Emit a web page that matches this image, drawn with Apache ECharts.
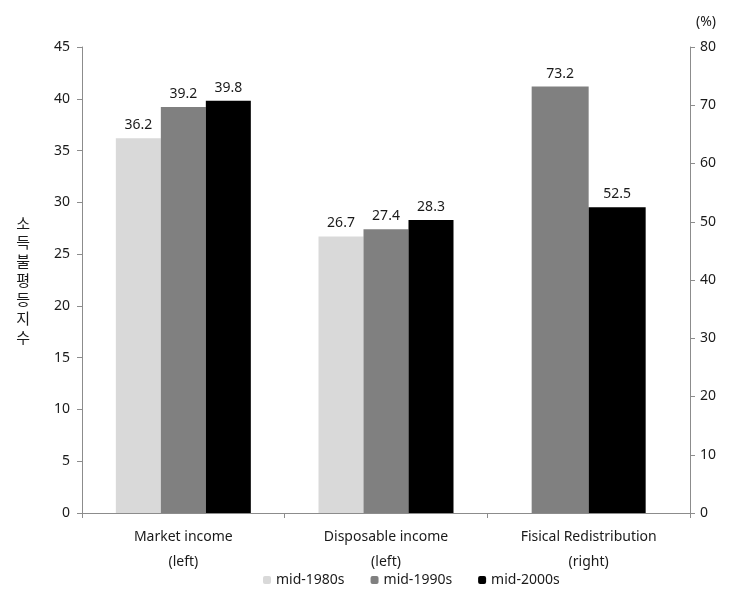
<!DOCTYPE html>
<html>
<head>
<meta charset="utf-8">
<script src="https://cdn.jsdelivr.net/npm/echarts@6/dist/echarts.min.js"></script>
<style>
  html, body { margin: 0; padding: 0; background: #ffffff; }
  #chart { width: 733px; height: 595px; }
</style>
</head>
<body>
<div id="chart"></div>
<script>
const categories = ["Market income\n(left)", "Disposable income\n(left)", "Fisical Redistribution\n(right)"];
const seriesNames = ["mid-1980s", "mid-1990s", "mid-2000s"];
const colors = ["#d9d9d9", "#808080", "#000000"];
// left axis values (income inequality index)
const mid1980sLeft = [36.2, 26.7, "-"];
const mid1990sLeft = [39.2, 27.4, "-"];
const mid2000sLeft = [39.8, 28.3, "-"];
// right axis values (%)
const mid1990sRight = ["-", "-", 73.2];
const mid2000sRight = ["-", "-", 52.5];

const font = "'Noto Sans', 'Noto Sans CJK KR', sans-serif";
const textColor = "#1a1a1a";
const chart = echarts.init(document.getElementById("chart"));

const label = {
  show: true,
  position: "top",
  distance: 6,
  color: textColor,
  fontSize: 14,
  fontFamily: font
};

const leftBar = (name, data, color) => ({
  name: name,
  type: "bar",
  xAxisIndex: 0,
  yAxisIndex: 0,
  barWidth: 45,
  barGap: "0%",
  itemStyle: { color: color },
  label: label,
  data: data
});
const rightBar = (name, data, color) => ({
  name: name,
  type: "bar",
  xAxisIndex: 1,
  yAxisIndex: 1,
  barWidth: 57,
  barGap: "0%",
  itemStyle: { color: color },
  label: label,
  data: data
});

const axisLine = { show: true, lineStyle: { color: "#8c8c8c", width: 1 } };

const option = {
  animation: false,
  textStyle: { fontFamily: font },
  grid: { left: 82, right: 43, top: 47, bottom: 82 },
  legend: {
    data: seriesNames,
    left: 258,
    bottom: 3,
    itemWidth: 8,
    itemHeight: 8,
    itemGap: 26,
    textStyle: { color: textColor, fontSize: 14, fontFamily: font }
  },
  xAxis: [
    {
      type: "category",
      data: categories,
      axisLine: axisLine,
      axisTick: { show: true, alignWithLabel: false, length: 5, lineStyle: { color: "#8c8c8c" } },
      axisLabel: { color: textColor, fontSize: 14, lineHeight: 25, margin: 12, interval: 0 }
    },
    {
      type: "category",
      data: categories,
      show: false
    }
  ],
  yAxis: [
    {
      type: "value",
      min: 0,
      max: 45,
      interval: 5,
      name: "소\n득\n불\n평\n등\n지\n수",
      nameLocation: "middle",
      nameRotate: 0,
      nameGap: 52,
      nameTextStyle: { color: textColor, fontSize: 15, lineHeight: 19, fontFamily: "'Noto Sans CJK KR', sans-serif" },
      splitLine: { show: false },
      axisLine: axisLine,
      axisTick: { show: true, length: 5, lineStyle: { color: "#8c8c8c" } },
      axisLabel: { color: textColor, fontSize: 14, margin: 12 }
    },
    {
      type: "value",
      position: "right",
      min: 0,
      max: 80,
      interval: 10,
      name: "(%)",
      nameGap: 18,
      nameTextStyle: { color: textColor, fontSize: 14, align: "left", padding: [0, 0, 0, 6] },
      splitLine: { show: false },
      axisLine: axisLine,
      axisTick: { show: true, length: 5, lineStyle: { color: "#8c8c8c" } },
      axisLabel: { color: textColor, fontSize: 14, margin: 10 }
    }
  ],
  series: [
    leftBar(seriesNames[0], mid1980sLeft, colors[0]),
    leftBar(seriesNames[1], mid1990sLeft, colors[1]),
    leftBar(seriesNames[2], mid2000sLeft, colors[2]),
    rightBar(seriesNames[1], mid1990sRight, colors[1]),
    rightBar(seriesNames[2], mid2000sRight, colors[2])
  ]
};

chart.setOption(option);
</script>
</body>
</html>
